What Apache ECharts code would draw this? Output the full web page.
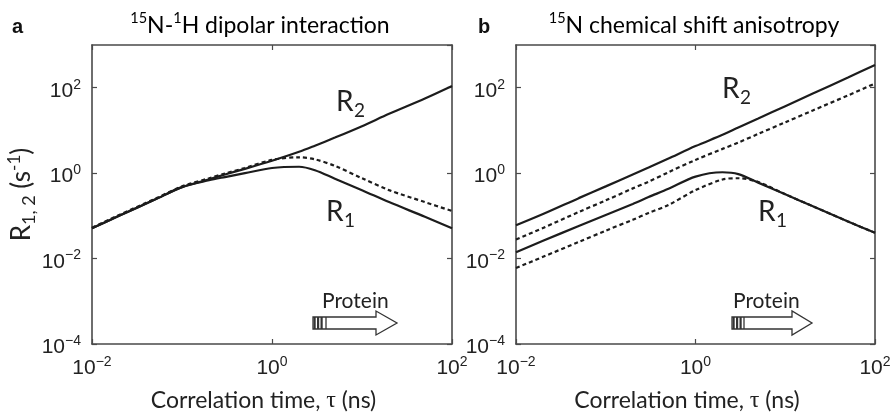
<!DOCTYPE html>
<html><head><meta charset="utf-8">
<script src="https://cdn.jsdelivr.net/npm/echarts@6/dist/echarts.min.js"></script>
<style>html,body{margin:0;padding:0;background:#fff}#c{width:891px;height:413px}</style>
</head><body><div id="c"></div>
<script>
// ---- data ----
const tau = [0.01,0.02,0.05,0.1,0.2,0.3,0.5,1,2,3,5,10,20,50,100];
// panel a: 15N-1H dipolar interaction
const dipolarR2 = [0.051,0.10,0.24,0.47,0.72,0.93,1.26,1.95,3.16,4.4,6.8,12.6,24.5,56,110];
const dipolarR1 = [0.051,0.10,0.24,0.47,0.68,0.81,1.0,1.32,1.41,1.17,0.74,0.40,0.21,0.095,0.051];
const dipolarDashed = [0.053,0.105,0.25,0.49,0.76,0.98,1.32,2.04,2.35,2.1,1.48,0.76,0.40,0.21,0.13];
// panel b: 15N chemical shift anisotropy
const csaR2 = [0.060,0.11,0.26,0.49,0.93,1.35,2.2,4.3,7.9,11.7,19,37,72,174,340];
const csaR2Dashed = [0.028,0.052,0.123,0.23,0.44,0.63,1.05,2.04,3.7,5.2,8.3,15.5,29,66,126];
const csaR1 = [0.014,0.026,0.058,0.105,0.19,0.275,0.43,0.83,1.05,0.95,0.6,0.32,0.17,0.074,0.04];
const csaR1Dashed = [0.006,0.011,0.0245,0.045,0.081,0.117,0.18,0.4,0.71,0.76,0.62,0.32,0.17,0.074,0.04];
// axis ranges / labels
const xRange = [0.01, 100];
const yRange = [1e-4, 1e3];
const panelTitles = ['{s|15}{n|N-}{s|1}{n|H dipolar interaction}', '{s|15}{n|N chemical shift anisotropy}'];
const panelLetters = ['a', 'b'];
const xName = '{n|Correlation time, }{t|τ}{n| (ns)}';
const yName = '{n|R}{sub|1, 2}{n| (s}{sup|-1}{n|)}';

const INK = '#1c1c1c', AX = '#4a4a4a';
const TXT = 'Lato, "Open Sans", sans-serif';
const NUM = '"Liberation Sans Narrow", "Liberation Sans", Arial, sans-serif';

function logLabel(v){
  const e = Math.round(Math.log10(v));
  if (e % 2 !== 0) return '';
  return '{b|10}{s|' + (e < 0 ? '\u2212' + (-e) : e) + '}';
}
const labelRich = {
  b:{fontFamily:NUM, fontSize:21, color:'#222', lineHeight:24, verticalAlign:'bottom'},
  s:{fontFamily:NUM, fontSize:14, color:'#222', lineHeight:13, verticalAlign:'top'}
};
const nameRich = {
  n:{fontFamily:TXT, fontSize:23, color:'#222'},
  t:{fontFamily:'Liberation Serif, serif', fontSize:24, color:'#222'}
};
const yNameRich = {
  n:{fontFamily:TXT, fontSize:26, color:'#222', lineHeight:32, verticalAlign:'middle'},
  sub:{fontFamily:TXT, fontSize:18, color:'#222', lineHeight:18, verticalAlign:'bottom'},
  sup:{fontFamily:TXT, fontSize:17, color:'#222', lineHeight:17, verticalAlign:'top'}
};

function xAxis(gi, pos){
  const main = pos === 'bottom';
  return {
    type:'log', logBase:10, gridIndex:gi, position:pos, min:xRange[0], max:xRange[1], interval:2,
    axisLine:{show:true, lineStyle:{color:AX, width:1.6}},
    axisTick:{show:true, inside:true, length:5, lineStyle:{color:AX, width:1.2}},
    minorTick:{show:false}, splitLine:{show:false},
    axisLabel:{show:main, margin:11, formatter:logLabel, rich:labelRich},
    name: main ? xName : '', nameLocation:'middle', nameGap:45,
    nameTextStyle:{rich:nameRich, padding:[0,17,0,0]}
  };
}
function yAxis(gi, pos, withName){
  const main = pos === 'left';
  return {
    type:'log', logBase:10, gridIndex:gi, position:pos, min:yRange[0], max:yRange[1], interval:2,
    axisLine:{show:true, lineStyle:{color:AX, width:1.6}},
    axisTick:{show:true, inside:true, length:5, lineStyle:{color:AX, width:1.2}},
    minorTick:{show:false}, splitLine:{show:false},
    axisLabel:{show:main, margin:11, formatter:logLabel, rich:labelRich, showMaxLabel:false, padding:[4,0,0,0]},
    name: (main && withName) ? yName : '', nameLocation:'middle', nameGap:54, nameRotate:90,
    nameTextStyle:{rich:yNameRich}
  };
}
function pairs(ys){ return tau.map((t,i)=>[t, ys[i]]); }
function line(name, ys, gi, dashed){
  return {
    name, type:'line', xAxisIndex:gi*2, yAxisIndex:gi*2, data:pairs(ys),
    showSymbol:false, smooth:0.3, silent:true,
    lineStyle:{color:INK, width:2.2, type: dashed ? [4,3] : 'solid'}
  };
}

function rLabel(x, y, sub){
  return [
    {type:'text', left:x, top:y, style:{text:'R', font:'28px Lato, sans-serif', fill:'#222'}},
    {type:'text', left:x+18, top:y+13, style:{text:sub, font:'19px Lato, sans-serif', fill:'#222'}}
  ];
}
function arrow(x0, shaftL, headL, tip){
  const y0 = 317, y1 = 329, yc = 323;
  const els = [
    {type:'polygon', shape:{points:[[x0,y0],[headL,y0],[headL,311],[tip,yc],[headL,335],[headL,y1],[x0,y1]]},
     style:{fill:'#fff', stroke:'#333', lineWidth:1.3}}
  ];
  [x0+1.5, x0+5, x0+8.5].forEach(x=>{
    els.push({type:'rect', shape:{x:x-1, y:y0, width:2.2, height:y1-y0}, style:{fill:'#333'}});
  });
  els.push({type:'line', shape:{x1:shaftL, y1:y0, x2:shaftL, y2:y1}, style:{stroke:'#333', lineWidth:1.3}});
  return els;
}
const titleRich = {
  n:{fontFamily:TXT, fontSize:23, color:'#222', lineHeight:27, verticalAlign:'bottom'},
  s:{fontFamily:TXT, fontSize:14.5, color:'#222', lineHeight:14, verticalAlign:'top'}
};

const chart = echarts.init(document.getElementById('c'), null, {renderer:'canvas'});
const graphics = [].concat(
  [
    {type:'text', left:12, top:17, style:{text:panelLetters[0], font:'bold 20px "Liberation Sans", Arial', fill:'#111'}},
    {type:'text', left:478, top:17, style:{text:panelLetters[1], font:'bold 20px "Liberation Sans", Arial', fill:'#111'}},
    {type:'text', style:{x:260, y:24, align:'center', verticalAlign:'middle', text:panelTitles[0], rich:titleRich}},
    {type:'text', style:{x:694, y:24, align:'center', verticalAlign:'middle', text:panelTitles[1], rich:titleRich}},
    {type:'text', left:322, top:291, style:{text:'Protein', font:'21px Lato, sans-serif', fill:'#222'}},
    {type:'text', left:733, top:291, style:{text:'Protein', font:'21px Lato, sans-serif', fill:'#222'}}
  ],
  rLabel(336, 88, '2'), rLabel(326, 198, '1'),
  rLabel(722, 75, '2'), rLabel(758, 198, '1'),
  arrow(313, 326, 376, 397), arrow(732, 744, 792, 812)
);

chart.setOption({
  animation:false,
  backgroundColor:'#fff',
  grid:[
    {left:92, top:45, width:360, height:299, show:false, outerBoundsMode:'none', containLabel:false},
    {left:516, top:45, width:359, height:299, show:false, outerBoundsMode:'none', containLabel:false}
  ],
  xAxis:[xAxis(0,'bottom'), xAxis(0,'top'), xAxis(1,'bottom'), xAxis(1,'top')],
  yAxis:[yAxis(0,'left',true), yAxis(0,'right'), yAxis(1,'left',false), yAxis(1,'right')],
  series:[
    line('dipolar R2', dipolarR2, 0, false),
    line('dipolar R1', dipolarR1, 0, false),
    line('dipolar dashed', dipolarDashed, 0, true),
    line('CSA R2', csaR2, 1, false),
    line('CSA R2 dashed', csaR2Dashed, 1, true),
    line('CSA R1', csaR1, 1, false),
    line('CSA R1 dashed', csaR1Dashed, 1, true)
  ],
  graphic:graphics
});
</script></body></html>
